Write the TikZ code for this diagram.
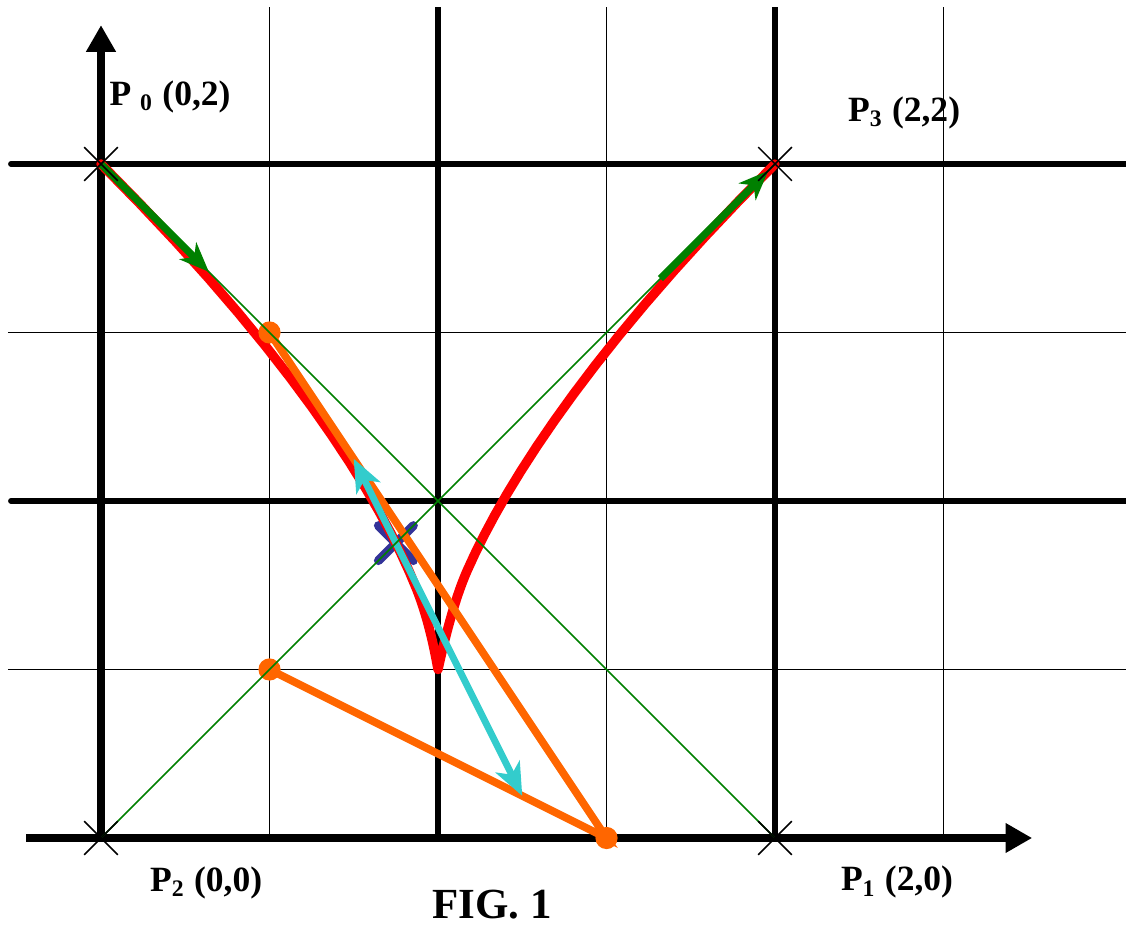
\documentclass[tikz,border=0pt]{standalone}
\usepackage{fontspec}
\setmainfont{Liberation Serif}
\usetikzlibrary{arrows.meta, calc}
\definecolor{curvered}{RGB}{255, 0, 0}
\definecolor{ctrlgreen}{RGB}{0, 128, 0}
\definecolor{castorange}{RGB}{255, 102, 0}
\definecolor{tancyan}{RGB}{51, 204, 204}
\definecolor{ptblue}{RGB}{51, 51, 153}
\tikzset{
  gridthin/.style={line width=0.5pt, black},
  gridthick/.style={line width=2pt, black},
  axisline/.style={line width=3pt, black, -{Triangle[length=9pt, width=9.5pt]}},
  ctrlline/.style={line width=0.5pt, ctrlgreen},
  tanarrow/.style={line width=2.4pt, ctrlgreen, -{Stealth[length=10pt, width=8pt, inset=3pt]}},
  bezier/.style={line width=3.2pt, curvered, line cap=round, line join=round},
  casteljau/.style={line width=2.6pt, castorange},
  castdot/.style={circle, fill=castorange, inner sep=0pt, minimum size=7.5pt},
  midtan/.style={line width=2.3pt, tancyan,
                 {Stealth[length=11pt, width=9pt, inset=3pt]}-{Stealth[length=11pt, width=9pt, inset=3pt]}},
  crossmark/.style={line width=0.5pt, black},
  ptmark/.style={line width=3pt, ptblue, line cap=round},
  ptlabel/.style={font=\bfseries\fontsize{12}{14}\selectfont, inner sep=0pt},
  figlabel/.style={font=\bfseries\fontsize{14.5}{17}\selectfont, inner sep=0pt},
}

\begin{document}
\begin{tikzpicture}[x=4cm, y=4cm]
  \useasboundingbox (-0.2997,-0.2582) rectangle (3.0415,2.4866);

  % control points
  \coordinate (P0) at (0,2);
  \coordinate (P1) at (2,0);
  \coordinate (P2) at (0,0);
  \coordinate (P3) at (2,2);
  % de Casteljau, t = 1/4
  \coordinate (Q0) at ($(P0)!0.25!(P1)$);
  \coordinate (Q1) at ($(P1)!0.25!(P2)$);
  \coordinate (Q2) at ($(P2)!0.25!(P3)$);
  \coordinate (R0) at ($(Q0)!0.25!(Q1)$);
  \coordinate (R1) at ($(Q1)!0.25!(Q2)$);
  \coordinate (M) at ($(R0)!0.25!(R1)$);
  % around the cusp
  \coordinate (C) at (1,0.5);
  \coordinate (B30) at (0.936,0.74);
  \coordinate (B72) at (1.0852,0.7904);

  % grid
  \foreach \gx in {0.5,1.5,2.5}
    \draw[gridthin] (\gx,0) -- (\gx,2.466);
  \foreach \gx in {1,2}
    \draw[gridthick] (\gx,0) -- (\gx,2.466);
  \foreach \gy in {0.5,1.5}
    \draw[gridthin] (-0.276,\gy) -- (3.0415,\gy);
  \foreach \gy in {1,2}
    \draw[gridthick, line cap=round] (-0.267,\gy) -- (3.0415,\gy);

  % axes
  \draw[axisline] (-0.2225,0) -- (2.763,0);
  \draw[axisline] (0,-0.013) -- (0,2.412);

  % point on the curve
  \draw[ptmark] ($(M)+(-0.052,-0.052)$) -- ($(M)+(0.052,0.052)$)
                ($(M)+(-0.052,0.052)$) -- ($(M)+(0.052,-0.052)$);

  % the curve
  \draw[bezier] plot[domain=0:0.3, samples=16]
      ({6*(1-\x)^2*\x + 2*\x^3}, {2*(1-\x)^3 + 2*\x^3})
    .. controls (0.968,0.66) and (0.988,0.57) .. (C)
    .. controls (1.015,0.57) and (1.0465,0.7024) .. (B72)
    -- plot[domain=0.72:1, samples=16]
      ({6*(1-\x)^2*\x + 2*\x^3}, {2*(1-\x)^3 + 2*\x^3});

  % construction
  \draw[casteljau] (Q0) -- (Q1) -- (Q2);
  \foreach \q in {Q0,Q1,Q2}
    \node[castdot] (dot\q) at (\q) {};
  \draw[midtan] (R0) -- (R1);

  % control polygon
  \draw[ctrlline] (P0) -- (P1);
  \draw[ctrlline] (P2) -- (P3);
  \draw[tanarrow] (P0) -- ($(P0)!0.16!(P1)$);
  \draw[tanarrow] ($(P2)!0.83!(P3)$) -- ($(P2)!0.99!(P3)$);

  \foreach \p in {P0,P1,P2,P3}
    \draw[crossmark] ($(\p)+(-0.05,-0.05)$) -- ($(\p)+(0.05,0.05)$)
                     ($(\p)+(-0.05,0.05)$) -- ($(\p)+(0.05,-0.05)$);

  % labels
  \node[ptlabel] (lab0) at (0.205,2.199) {P \textsubscript{0} (0,2)};
  \node[ptlabel] (lab3) at (2.383,2.151) {P\textsubscript{3} (2,2)};
  \node[ptlabel] (lab2) at (0.312,-0.133) {P\textsubscript{2} (0,0)};
  \node[ptlabel] (lab1) at (2.362,-0.131) {P\textsubscript{1} (2,0)};
  \node[figlabel] (fig) at (1.160,-0.198) {FIG. 1};
\end{tikzpicture}
\end{document}
